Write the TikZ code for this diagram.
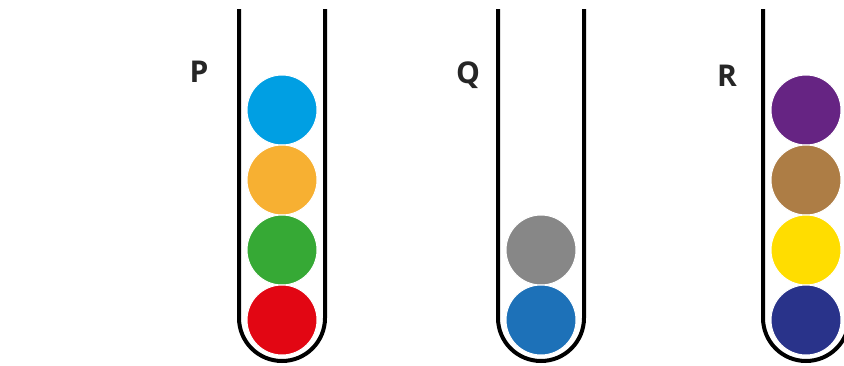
\documentclass[tikz,border=0pt]{standalone}
\usepackage{fontspec}
\setmainfont{Open Sans}
\definecolor{cBlue}{HTML}{009FE3}
\definecolor{cOrange}{HTML}{F7B032}
\definecolor{cGreen}{HTML}{36A935}
\definecolor{cRed}{HTML}{E20613}
\definecolor{cGray}{HTML}{878787}
\definecolor{cMidBlue}{HTML}{1D71B8}
\definecolor{cPurple}{HTML}{662483}
\definecolor{cBrown}{HTML}{AD7D45}
\definecolor{cYellow}{HTML}{FFDD00}
\definecolor{cNavy}{HTML}{29338A}
\begin{document}
\begin{tikzpicture}[x=1pt,y=-1pt,
  ball/.style={circle,minimum size=70pt,inner sep=0pt,draw=white,line width=1pt},
  tube/.style={draw=black,line width=4pt,line join=round},
  lbl/.style={font=\fontsize{30}{30}\selectfont\bfseries,text=black!85,inner sep=0pt}]
\useasboundingbox (0,0) rectangle (844,365);
\fill[white] (0,0) rectangle (844,365);
% tubes
\foreach \cx/\nm in {282/P,541/Q,806/R}{
  \draw[tube] (\cx-43,9) -- (\cx-43,318) arc[start angle=180,end angle=0,radius=43] -- (\cx+43,9);
}
% balls P
\node[ball,fill=cBlue]   (p1) at (282,110) {};
\node[ball,fill=cOrange] (p2) at (282,180) {};
\node[ball,fill=cGreen]  (p3) at (282,250) {};
\node[ball,fill=cRed]    (p4) at (282,320) {};
% balls Q
\node[ball,fill=cGray]    (q1) at (541,250) {};
\node[ball,fill=cMidBlue] (q2) at (541,320) {};
% balls R
\node[ball,fill=cPurple] (r1) at (806,110) {};
\node[ball,fill=cBrown]  (r2) at (806,180) {};
\node[ball,fill=cYellow] (r3) at (806,250) {};
\node[ball,fill=cNavy]   (r4) at (806,320) {};
% labels
\node[lbl] (lP) at (199,72) {P};
\node[lbl] (lQ) at (468,75) {Q};
\node[lbl] (lR) at (727,76) {R};
\end{tikzpicture}
\end{document}
